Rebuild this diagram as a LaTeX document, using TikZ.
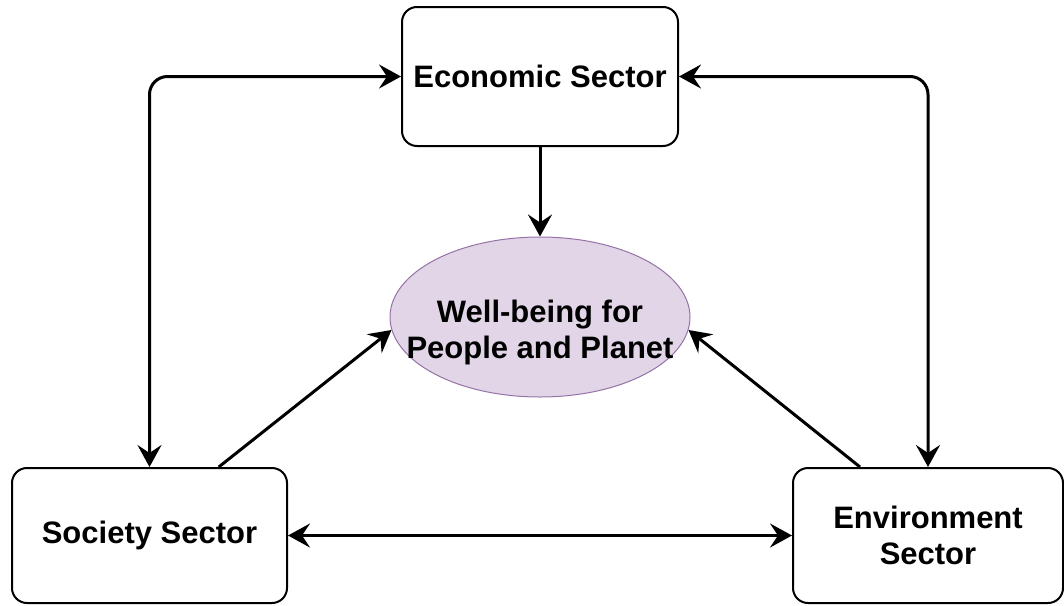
\documentclass[tikz,border=0pt]{standalone}
\usepackage{fontspec}
\setmainfont{Liberation Sans}
\usetikzlibrary{arrows.meta,shapes.geometric,calc}
\definecolor{well fill}{HTML}{E1D5E7}
\definecolor{well line}{HTML}{9673A6}

\begin{document}
\begin{tikzpicture}[x=0.5pt,y=-0.5pt,
		>={Stealth[length=11pt,width=12pt,inset=4pt]},
		sector/.style={draw, line width=1pt, rounded corners=7.5pt, align=center,
			minimum width=137.5pt, minimum height=67.5pt, inner sep=0pt,
			font=\fontsize{15.5}{18}\selectfont\bfseries},
		link/.style={line width=1.5pt}]
		\useasboundingbox (0,0) rectangle (1064,605);
		% the three sectors
		\node[sector, minimum width=138pt, minimum height=69.5pt] (econ) at (540,76.5) {Economic Sector};
		\node[sector] (soc) at (149.5,535.5) {Society Sector};
		\node[sector, minimum width=135pt] (env) at (928,535.5) {Environment\\Sector};
		% goal in the middle
		\node[ellipse, draw=well line, fill=well fill, line width=0.5pt, align=center,
			minimum width=150pt, minimum height=80pt, inner xsep=-13.8pt, inner ysep=-14pt,
			text height=45pt,
			font=\fontsize{15.5}{18}\selectfont\bfseries] (well) at (540,317) {Well-being for\\People and Planet};
		% links between sectors
		\draw[link, <->, rounded corners=9pt] (soc.north) |- (econ.west);
		\draw[link, <->, rounded corners=9pt] (env.north) |- (econ.east);
		\draw[link, <->] (soc.east) -- (env.west);
		% links into the goal
		\draw[link, ->] (econ.south) -- (well.north);
		\draw[link, ->] ($(soc.north west)!0.75!(soc.north east)$) -- (well.185);
		\draw[link, ->] ($(env.north west)!0.25!(env.north east)$) -- (well.355);
	\end{tikzpicture}
\end{document}
